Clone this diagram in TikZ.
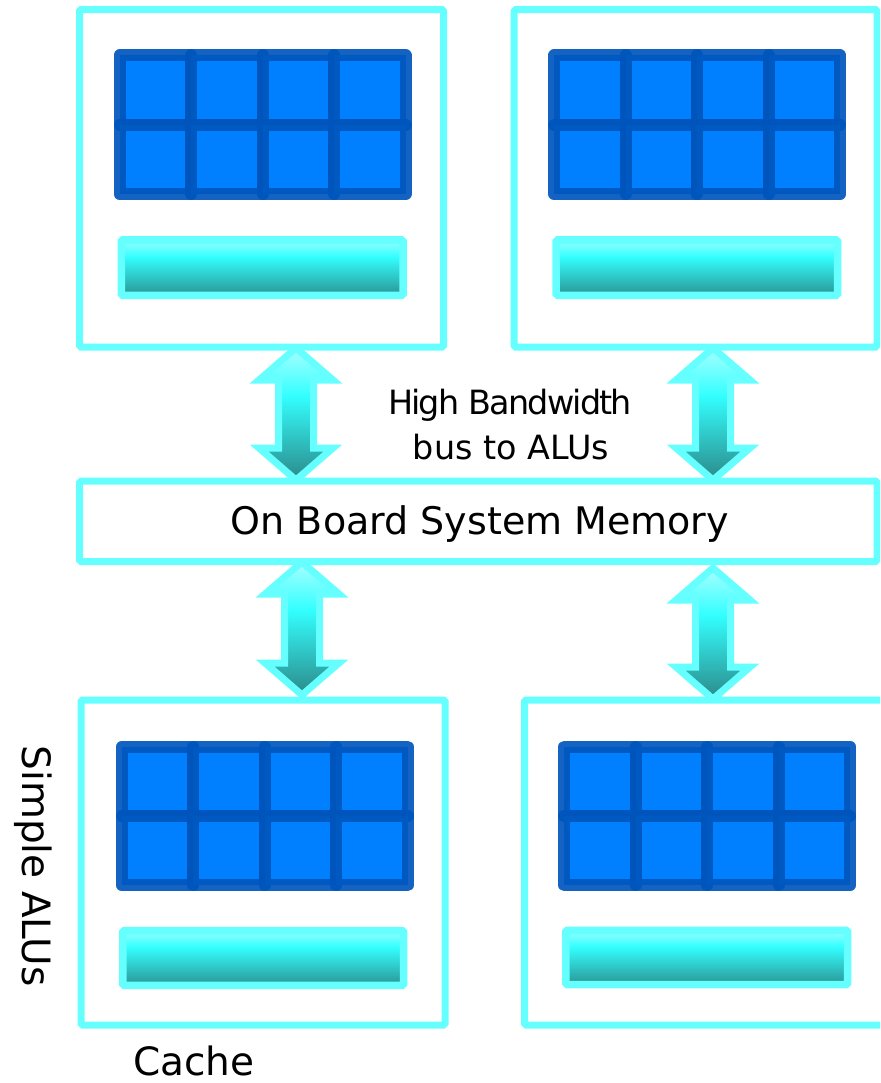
\documentclass[tikz,border=0pt]{standalone}
\usepackage{fontspec}
\setmainfont{DejaVu Sans}

% palette
\definecolor{glow}{HTML}{66FFFF}
\definecolor{alufill}{HTML}{0080FF}
\definecolor{aluedge}{HTML}{0055BC}
\definecolor{cyanlight}{HTML}{98FFFF}
\definecolor{cyanbright}{HTML}{33FFFF}
\definecolor{tealdark}{HTML}{2B9494}
\definecolor{arrowlight}{HTML}{A8FFFF}
\definecolor{arrowdark}{HTML}{2C8989}

% vertical fills for the cache bars and the bus arrows
\pgfdeclareverticalshading{cachegrad}{100bp}{color(0bp)=(tealdark); color(25bp)=(tealdark); color(60bp)=(cyanbright); color(75bp)=(cyanlight); color(100bp)=(cyanlight)}
\pgfdeclareverticalshading{busgrad}{100bp}{color(0bp)=(arrowdark); color(25bp)=(arrowdark); color(57bp)=(cyanbright); color(75bp)=(arrowlight); color(100bp)=(arrowlight)}

\tikzset{
  unitbox/.style={draw=glow, line width=7pt, fill=white, rounded corners=1.5pt,
                  inner sep=0pt, minimum width=#1},
  alucell/.style={draw=aluedge, draw opacity=.92, line width=12pt, line join=round, fill=alufill},
  cachebar/.style={shade, shading=cachegrad, draw=glow, line width=7.5pt, rounded corners=1.5pt},
  bus/.style={shade, shading=busgrad, draw=glow, line width=7pt, line join=miter},
  lbl/.style={inner sep=0pt, text=black}
}

% double-headed bus arrow: centre x, top tip y, bottom tip y
\newcommand{\busarrow}[3]{%
  \path[bus] (#1,#2) -- ++(37,32) -- ++(-19.5,0) -- (#1+17.5,#3-32) -- ++(19.5,0)
    -- (#1,#3) -- ++(-37,-32) -- ++(19.5,0) -- (#1-17.5,#2+32) -- ++(-19.5,0) -- cycle;}

% 4 x 2 block of ALU cells, top-left corner given
\newcommand{\alugrid}[2]{%
  \foreach \i in {0,...,3}{\foreach \j in {0,1}{%
    \path[alucell] (#1+\i*71.5,#2+\j*69.3) rectangle ++(71.5,69.3);}}}

\begin{document}
\begin{tikzpicture}[x=1pt,y=-1pt]
\useasboundingbox (0,0) rectangle (880,1083);
\clip (0,0) rectangle (880,1083);

% bus arrows between the units and the shared memory
\busarrow{296}{348}{480}
\busarrow{713}{348}{480}
\busarrow{302}{562}{695}
\busarrow{713}{568}{699}

% processing units
\node[unitbox=364pt, minimum height=337.3pt] (unitTL) at (261.5,178.35) {};
\node[unitbox=363pt, minimum height=337.3pt] (unitTR) at (695.5,178.35) {};
\node[unitbox=364pt, minimum height=325pt] (unitBL) at (263,862.5) {};
\node[unitbox=360.5pt, minimum height=325pt] (unitBR) at (704.75,862.5) {};

% shared memory
\node[unitbox=797.3pt, minimum height=80.5pt] (mem) at (478.35,521.25) {};
\node[lbl, anchor=base, font=\fontsize{38}{46}\selectfont] (memlabel) at (480,534) {On Board System Memory};

% ALU arrays
\alugrid{119.5}{55.5}
\alugrid{554.2}{55.5}
\alugrid{121.7}{746.7}
\alugrid{564.2}{746.7}

% caches
\path[cachebar] (121.3,240) rectangle (403,295.3);
\path[cachebar] (556.2,240) rectangle (837.5,295.3);
\path[cachebar] (122.8,930.5) rectangle (403.7,985.3);
\path[cachebar] (565.8,930.3) rectangle (847.5,984.7);

% labels
\node[lbl, anchor=base, font=\fontsize{33.4}{40}\selectfont\addfontfeature{LetterSpace=-5.3}] (buslabelA) at (510,414.5) {High Bandwidth};
\node[lbl, anchor=base, font=\fontsize{33.4}{40}\selectfont] (buslabelB) at (511,459) {bus to ALUs};
\node[lbl, anchor=base, font=\fontsize{39}{47}\selectfont] (cachelabel) at (194,1075) {Cache};
\node[lbl, anchor=base, rotate=-90, font=\fontsize{39}{47}\selectfont] (alulabel) at (22,866) {Simple ALUs};
\end{tikzpicture}
\end{document}
